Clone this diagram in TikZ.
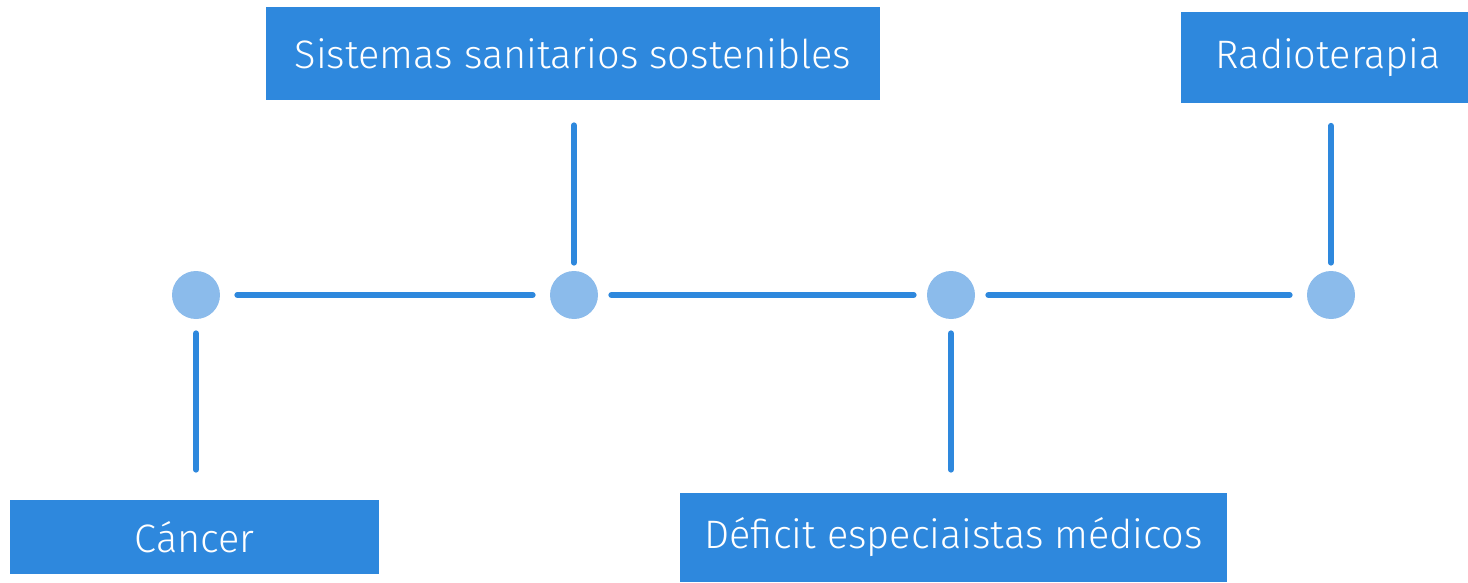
\documentclass[tikz,border=0pt]{standalone}
\usepackage{fontspec}
\setmainfont{Fira Sans Light}
\usepackage{tikz}

\definecolor{boxblue}{HTML}{2E88DD}
\definecolor{dotblue}{HTML}{8BBBEB}

\tikzset{
    topic/.style={fill=boxblue, text=white, inner sep=0pt, font=\fontsize{22.6}{27}\selectfont},
    dot/.style={circle, fill=dotblue, minimum size=0.96cm, inner sep=0pt},
    link/.style={draw=boxblue, line width=3.4pt, line cap=round}
}

\begin{document}
\begin{tikzpicture}[x=0.02cm, y=-0.02cm]
    \useasboundingbox (0, 0) rectangle (1468, 582);

    % draw dots of the line
    \node[dot] (c1) at (196, 295) {};
    \node[dot] (c2) at (574, 295) {};
    \node[dot] (c3) at (951, 295) {};
    \node[dot] (c4) at (1331, 295) {};

    % draw topic boxes
    \node[topic, minimum width=12.28cm, minimum height=1.86cm] (sist) at (573, 53.5) {Sistemas sanitarios sostenibles};
    \node[topic, minimum width=5.74cm, minimum height=1.84cm] (radio) at (1324.5, 57.5) {\hspace{0.15cm}\raisebox{-0.1cm}{Radioterapia}};
    \node[topic, minimum width=7.38cm, minimum height=1.48cm] (canc) at (194.5, 537) {Cáncer};
    \node[topic, minimum width=10.94cm, minimum height=1.78cm] (defic) at (953.5, 537.5) {\raisebox{-0.06cm}{Déficit especiaistas médicos}};

    % draw line between dots
    \draw[link, shorten <=0.34cm, shorten >=0.34cm] (c1) -- (c2);
    \draw[link, shorten <=0.26cm, shorten >=0.26cm] (c2) -- (c3);
    \draw[link, shorten <=0.26cm, shorten >=0.34cm] (c3) -- (c4);

    % draw stems to boxes
    \draw[link, shorten <=0.28cm, shorten >=0.6cm] (c1) -- (c1 |- canc.north);
    \draw[link, shorten <=0.16cm, shorten >=0.5cm] (c2) -- (c2 |- sist.south);
    \draw[link, shorten <=0.28cm, shorten >=0.46cm] (c3) -- (c3 |- defic.north);
    \draw[link, shorten <=0.16cm, shorten >=0.44cm] (c4) -- (c4 |- radio.south);
\end{tikzpicture}
\end{document}
